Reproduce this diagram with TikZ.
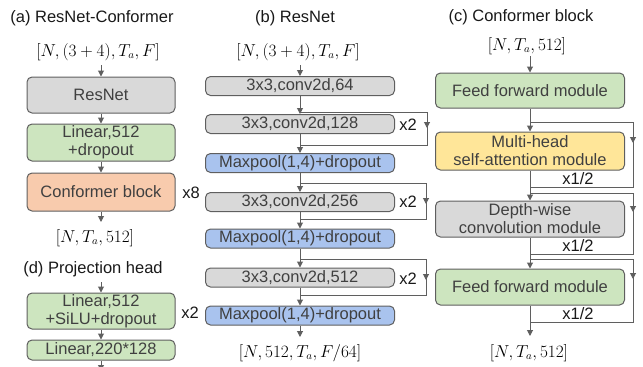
\documentclass[tikz,border=0pt]{standalone}
\usepackage[no-math]{fontspec}
\setmainfont{Liberation Sans}
\usetikzlibrary{arrows.meta}
\definecolor{bordergray}{HTML}{5F5F5F}
\definecolor{linegray}{HTML}{5F5F5F}
\definecolor{txtgray}{HTML}{404040}
\definecolor{fgray}{HTML}{D9D9D9}
\definecolor{fgreen}{HTML}{CDE5BF}
\definecolor{forange}{HTML}{F8CBAD}
\definecolor{fyellow}{HTML}{FFE699}
\definecolor{fblue}{HTML}{A9C3EE}
\tikzset{
  box/.style={draw=bordergray, line width=1pt, rounded corners=5pt, inner sep=0pt, align=center, text=txtgray, font=\fontsize{16.5}{18}\selectfont},
  wa/.style={box, minimum width=148pt},
  wb/.style={box, minimum width=189pt, minimum height=19pt},
  wc/.style={box, minimum width=189pt},
  lbl/.style={font=\fontsize{16.5}{18}\selectfont, inner sep=0pt, text=black!90},
  mth/.style={font=\fontsize{16}{18}\selectfont, inner sep=0pt},
  conn/.style={draw=linegray, line width=1pt},
  arr/.style={conn, -{Triangle[width=6pt,length=6pt]}},
}
\begin{document}
\begin{tikzpicture}[x=1pt,y=-1pt]
\useasboundingbox (0,0) rectangle (643,367);

% ---------------- (a) ResNet-Conformer ----------------
\node[lbl] (ta) at (92,18) {(a) ResNet-Conformer};
\node[mth] (ma) at (98,52) {$[N,(3+4),T_a,F]$};
\node[wa, fill=fgray, minimum height=36pt] (a1) at (101,95) {ResNet};
\node[wa, fill=fgreen, minimum height=37pt] (a2) at (101,142.5) {Linear,512\\+dropout};
\node[wa, fill=forange, minimum height=38pt] (a3) at (101,192) {Conformer block};
\node[lbl] (x8) at (191,193) {x8};
\node[mth] (mao) at (95,238) {$[N,T_a,512]$};
\coordinate (ais) at (101,65);
\coordinate (aoe) at (101,222);
\draw[arr] (ais) -- (a1);
\draw[arr] (a1) -- (a2);
\draw[arr] (a2) -- (a3);
\draw[arr] (a3) -- (aoe);

% ---------------- (d) Projection head ----------------
\node[lbl] (td) at (93,269) {(d) Projection head};
\node[wa, fill=fgreen, minimum height=36pt] (d1) at (101,311) {Linear,512\\+SiLU+dropout};
\node[lbl] (dx2) at (190,313) {x2};
\node[wa, fill=fgreen, minimum height=20pt] (d2) at (101,350) {Linear,220*128};
\coordinate (dis) at (101,282);
\coordinate (doe) at (101,371);
\draw[arr] (dis) -- (d1);
\draw[arr] (d1) -- (d2);
\draw[arr] (d2) -- (doe);

% ---------------- (b) ResNet ----------------
\node[lbl] (tb) at (295,18) {(b) ResNet};
\node[mth] (mb) at (298,52) {$[N,(3+4),T_a,F]$};
\node[wb, fill=fgray] (b1) at (300,86) {3x3,conv2d,64};
\node[wb, fill=fgray] (b2) at (300,124) {3x3,conv2d,128};
\node[wb, fill=fblue] (b3) at (300,163) {Maxpool(1,4)+dropout};
\node[wb, fill=fgray] (b4) at (300,202) {3x3,conv2d,256};
\node[wb, fill=fblue] (b5) at (300,238.5) {Maxpool(1,4)+dropout};
\node[wb, fill=fgray] (b6) at (300,277.5) {3x3,conv2d,512};
\node[wb, fill=fblue] (b7) at (300,315.5) {Maxpool(1,4)+dropout};
\node[mth] (mbo) at (300,353) {$[N,512,T_a,F/64]$};
\node[lbl] (bx1) at (408,125) {x2};
\node[lbl] (bx2) at (408,202) {x2};
\node[lbl] (bx3) at (408,279) {x2};
\coordinate (bis) at (300,65);
\coordinate (boe) at (300,337);
\draw[arr] (bis) -- (b1);
\draw[arr] (b1) -- (b2);
\draw[arr] (b2) -- (b3);
\draw[arr] (b3) -- (b4);
\draw[arr] (b4) -- (b5);
\draw[arr] (b5) -- (b6);
\draw[arr] (b6) -- (b7);
\draw[arr] (b7) -- (boe);
% skip connections
\coordinate (s1t) at (300,112); \coordinate (s1tr) at (427,112);
\coordinate (s1m) at (427,128); \coordinate (s1br) at (427,145); \coordinate (s1b) at (300,145);
\coordinate (s2t) at (300,183); \coordinate (s2tr) at (426,183);
\coordinate (s2m) at (426,204); \coordinate (s2br) at (426,219); \coordinate (s2b) at (300,219);
\coordinate (s3t) at (300,259); \coordinate (s3tr) at (426,259);
\coordinate (s3m) at (426,280); \coordinate (s3br) at (426,295); \coordinate (s3b) at (300,295);
\draw[conn] (s1t) -- (s1tr) -- (s1br) -- (s1b);
\draw[arr] (s1tr) -- (s1m);
\draw[conn] (s2t) -- (s2tr) -- (s2br) -- (s2b);
\draw[arr] (s2tr) -- (s2m);
\draw[conn] (s3t) -- (s3tr) -- (s3br) -- (s3b);
\draw[arr] (s3tr) -- (s3m);

% ---------------- (c) Conformer block ----------------
\node[lbl] (tc) at (521,17) {(c) Conformer block};
\node[mth] (mc) at (527,46) {$[N,T_a,512]$};
\node[wc, fill=fgreen, minimum height=35pt] (c1) at (530,90.5) {Feed forward module};
\node[wc, fill=fyellow, minimum height=38pt] (c2) at (530,151) {Multi-head\\self-attention module};
\node[wc, fill=fgray, minimum height=36pt] (c3) at (530,219) {Depth-wise\\convolution module};
\node[wc, fill=fgreen, minimum height=36pt] (c4) at (530,287) {Feed forward module};
\node[mth] (mco) at (529,353) {$[N,T_a,512]$};
\node[lbl] (h1) at (578,179) {x1/2};
\node[lbl] (h2) at (578,246) {x1/2};
\node[lbl] (h3) at (578,314) {x1/2};
\coordinate (cis) at (530,56);
\coordinate (coe) at (530,336);
\draw[arr] (cis) -- (c1);
\draw[arr] (c1) -- (c2);
\draw[arr] (c2) -- (c3);
\draw[arr] (c3) -- (c4);
\draw[arr] (c4) -- (coe);
\coordinate (k1t) at (530,122); \coordinate (k1tr) at (633,122);
\coordinate (k1m) at (633,143); \coordinate (k1br) at (633,187); \coordinate (k1b) at (530,187);
\coordinate (k2t) at (530,193); \coordinate (k2tr) at (633,193);
\coordinate (k2m) at (633,212); \coordinate (k2br) at (633,254); \coordinate (k2b) at (530,254);
\coordinate (k3t) at (530,259); \coordinate (k3tr) at (633,259);
\coordinate (k3m) at (633,279); \coordinate (k3br) at (633,322); \coordinate (k3b) at (530,322);
\draw[conn] (k1t) -- (k1tr) -- (k1br) -- (k1b);
\draw[arr] (k1tr) -- (k1m);
\draw[conn] (k2t) -- (k2tr) -- (k2br) -- (k2b);
\draw[arr] (k2tr) -- (k2m);
\draw[conn] (k3t) -- (k3tr) -- (k3br) -- (k3b);
\draw[arr] (k3tr) -- (k3m);
\end{tikzpicture}
\end{document}
